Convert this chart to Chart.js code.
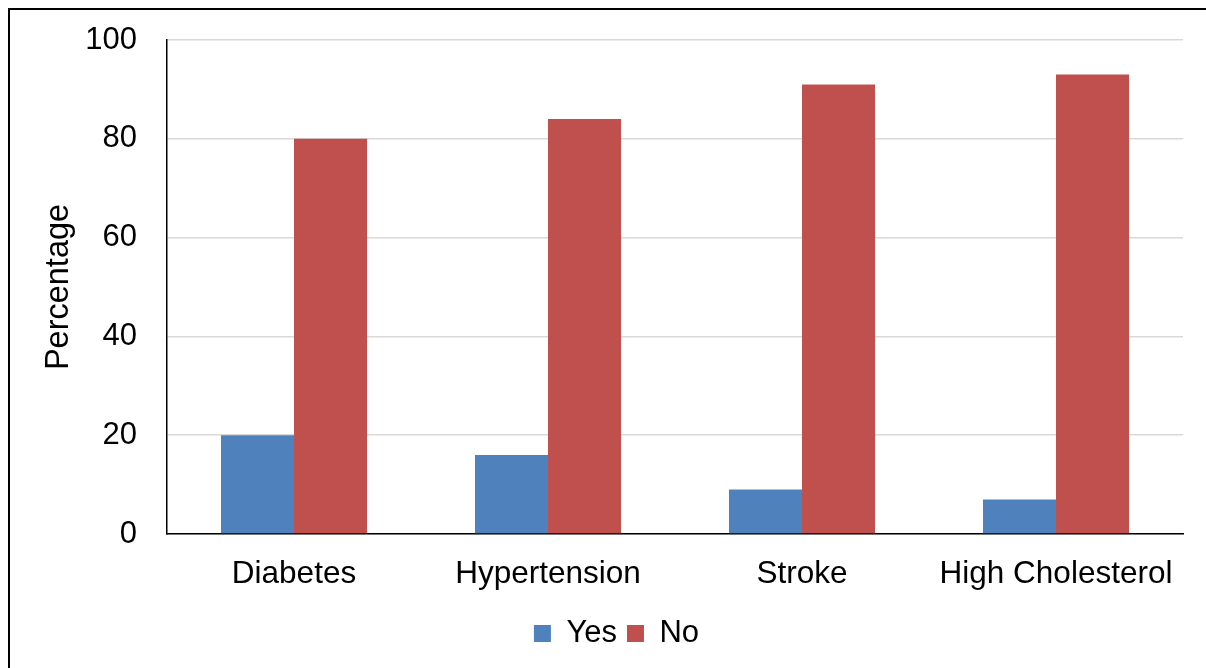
<!DOCTYPE html>
<html>
<head>
<meta charset="utf-8">
<script src="https://cdn.jsdelivr.net/npm/chart.js@4/dist/chart.umd.min.js"></script>
<style>
  html, body { margin: 0; padding: 0; background: #fff; }
  #frame {
    position: absolute;
    left: 8px;
    top: 8px;
    width: 1196px;
    height: 658px;
    border-top: 2px solid #000;
    border-left: 2px solid #000;
  }
  canvas { display: block; }
</style>
</head>
<body>
<div id="frame"><canvas id="chart" width="1196" height="658"></canvas></div>
<script>
const categories = ["Diabetes", "Hypertension", "Stroke", "High Cholesterol"];
const yesValues = [20, 16, 9, 7];
const noValues = [80, 84, 91, 93];
const seriesNames = ["Yes", "No"];

Chart.defaults.font.family = '"Liberation Sans", Arial, sans-serif';
Chart.defaults.font.size = 31;
Chart.defaults.color = "#000";

let ctx = document.getElementById("chart").getContext("2d");

const data = {
  labels: categories,
  datasets: [
    {
      label: seriesNames[0],
      data: yesValues,
      backgroundColor: "#4f81bd",
      categoryPercentage: 0.575,
      barPercentage: 1,
    },
    {
      label: seriesNames[1],
      data: noValues,
      backgroundColor: "#c0504d",
      categoryPercentage: 0.575,
      barPercentage: 1,
    },
  ],
};

const options = {
  responsive: false,
  animation: false,
  layout: {
    padding: { left: 40, right: 23, top: 30, bottom: 9 },
  },
  plugins: {
    tooltip: { enabled: false },
    legend: {
      position: "bottom",
      labels: {
        boxWidth: 17,
        boxHeight: 17,
        padding: 10,
        font: { size: 31 },
      },
    },
  },
  scales: {
    x: {
      grid: { display: false, drawTicks: false },
      border: { color: "#000", width: 1.5 },
      ticks: { padding: 21, maxRotation: 0, font: { size: 31.5 } },
      afterFit: (scale) => {
        scale.height = 74;
      },
    },
    y: {
      min: 0,
      max: 100,
      ticks: { stepSize: 20, padding: 3, font: { size: 31 } },
      // invisible tick marks keep the labels clear of the axis line
      grid: { color: "#d9d9d9", lineWidth: 1.5, tickLength: 27, tickColor: "rgba(0,0,0,0)" },
      border: { color: "#000", width: 1.5 },
      title: {
        display: true,
        text: "Percentage",
        font: { size: 32.5 },
        padding: { top: -10, bottom: 0 },
      },
      afterFit: (scale) => {
        scale.width = 117;
      },
    },
  },
};

new Chart(ctx, {
  type: "bar",
  data: data,
  options: options,
});
</script>
</body>
</html>
